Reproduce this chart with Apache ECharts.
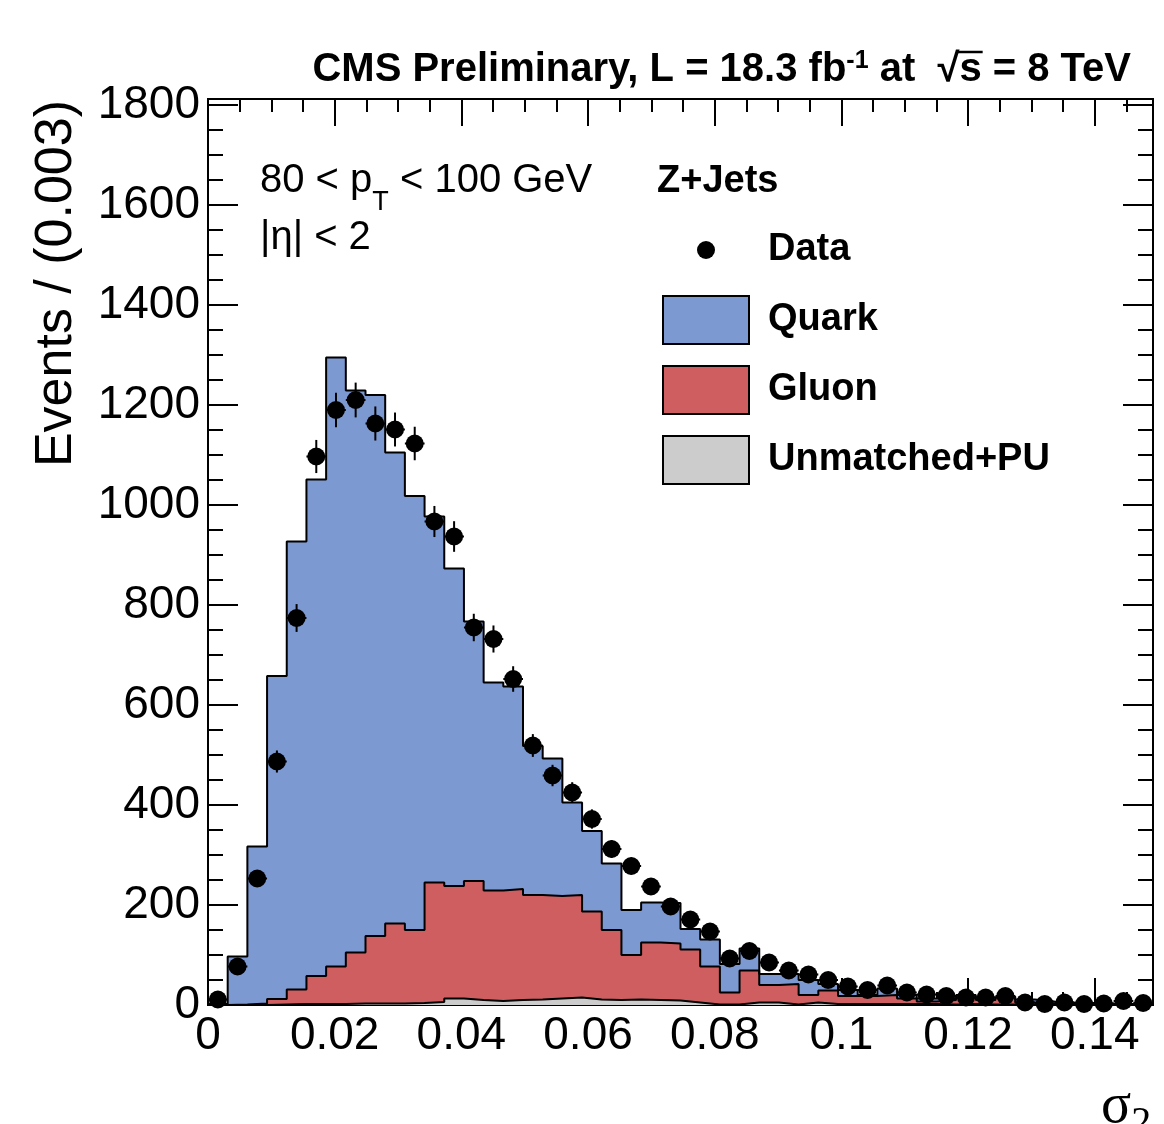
<!DOCTYPE html>
<html>
<head>
<meta charset="utf-8">
<script src="https://cdn.jsdelivr.net/npm/echarts@6/dist/echarts.min.js"></script>
<style>
  html, body { margin: 0; padding: 0; background: #ffffff; }
  #chart { width: 1164px; height: 1124px; }
</style>
</head>
<body>
<div id="chart"></div>
<script>
// histogram binning (48 bins over the axis range)
const xMax = 0.1492;
const nBins = 48;
const binWidth = xMax / nBins;
const yMax = 1812;
const xTicks = [0, 0.02, 0.04, 0.06, 0.08, 0.1, 0.12, 0.14];
const yTicks = [0, 200, 400, 600, 800, 1000, 1200, 1400, 1600, 1800];

// observed events per bin
const dataCounts = [11, 77, 253, 487, 774, 1097, 1190, 1210, 1163, 1151,
  1123, 967, 937, 755, 732, 652, 519, 459, 425, 372,
  312, 278, 237, 197, 171, 147, 93, 108, 85, 69,
  61, 50, 37, 30, 39, 25, 21, 18, 15, 15,
  18, 5, 2, 5, 2, 3, 8, 4];

// simulated components (stacked: unmatched, gluon, quark)
const quark = [2, 96, 314, 646, 896, 993, 1218, 1124, 1082, 942,
  868, 732, 635, 519, 416, 405, 298, 275, 185, 161,
  133, 90, 80, 81, 41, 54, 57, 44, 22, 20,
  30, 13, 12, 2, 13, 7, 6, 2, 5, 5,
  2, 6, 4, 2, 2, 1, 1, 1];
const gluon = [0, 1, 3, 11, 29, 56, 75, 102, 135, 160,
  146, 239, 225, 238, 221, 222, 209, 205, 205, 176,
  140, 89, 115, 114, 106, 76, 24, 64, 35, 41,
  15, 27, 16, 16, 18, 11, 5, 9, 13, 9,
  14, 4, 2, 2, 1, 1, 1, 1];
const unmatched = [0, 0, 0, 1, 2, 2, 2, 3, 3, 3,
  4, 6, 13, 10, 8, 10, 11, 13, 15, 11,
  10, 11, 10, 9, 5, 1, 1, 5, 5, 1,
  5, 2, 2, 2, 2, 2, 2, 1, 2, 1,
  1, 1, 1, 1, 1, 1, 0, 0];

const FONT = '"Liberation Sans", Helvetica, Arial, sans-serif';

// cumulative tops of the stack, drawn back to front
const grayTop = unmatched.slice();
const redTop = gluon.map((v, i) => v + grayTop[i]);
const blueTop = quark.map((v, i) => v + redTop[i]);

const layers = [
  { name: 'Quark', values: blueTop, color: '#7d99d1' },
  { name: 'Gluon', values: redTop, color: '#cf5e61' },
  { name: 'Unmatched+PU', values: grayTop, color: '#cccccc' },
];

// points at the left edge of each bin, plus the closing right edge
function stepData(values) {
  const pts = values.map((v, i) => [i * binWidth, v]);
  pts.push([nBins * binWidth, values[values.length - 1]]);
  return pts;
}

const dataPoints = dataCounts.map((v, i) => [(i + 0.5) * binWidth, v]);

function isTick(v, ticks) {
  return ticks.some((t) => Math.abs(t - v) < 1e-9);
}

function xAxisCfg(position, interval, tickLen, showLabel) {
  return {
    type: 'value',
    position,
    min: 0,
    max: xMax,
    interval,
    axisLine: { show: true, onZero: false, lineStyle: { color: '#000', width: 2 } },
    axisTick: { show: true, inside: true, length: tickLen, lineStyle: { color: '#000', width: 2 } },
    axisLabel: {
      show: showLabel,
      color: '#000',
      fontFamily: FONT,
      fontSize: 46,
      margin: 8,
      formatter: (v) => (isTick(v, xTicks) ? String(+v.toFixed(2)) : ''),
    },
    splitLine: { show: false },
  };
}

function yAxisCfg(position, interval, tickLen, showLabel) {
  return {
    type: 'value',
    position,
    min: 0,
    max: yMax,
    interval,
    axisLine: { show: true, onZero: false, lineStyle: { color: '#000', width: 2 } },
    axisTick: { show: true, inside: true, length: tickLen, lineStyle: { color: '#000', width: 2 } },
    axisLabel: {
      show: showLabel,
      color: '#000',
      fontFamily: FONT,
      fontSize: 46,
      margin: 8,
      formatter: (v) => (isTick(v, yTicks) ? String(v) : ''),
    },
    splitLine: { show: false },
  };
}

function renderErrorBar(params, api) {
  const x = api.value(0);
  const y = api.value(1);
  const err = Math.sqrt(y);
  const top = api.coord([x, y + err]);
  const bot = api.coord([x, Math.max(y - err, 0)]);
  const left = api.coord([x - binWidth / 2, y]);
  const right = api.coord([x + binWidth / 2, y]);
  const style = { stroke: '#000', lineWidth: 2 };
  return {
    type: 'group',
    children: [
      { type: 'line', shape: { x1: top[0], y1: top[1], x2: bot[0], y2: bot[1] }, style },
      { type: 'line', shape: { x1: left[0], y1: left[1], x2: right[0], y2: right[1] }, style },
    ],
  };
}

const series = [];
layers.forEach((l, k) => {
  series.push({
    type: 'line',
    name: l.name,
    step: 'end',
    data: stepData(l.values),
    symbol: 'none',
    lineStyle: { opacity: 0 },
    areaStyle: { color: l.color, opacity: 1, origin: 'start' },
    z: 2 + k * 0.1,
    silent: true,
  });
});
layers.forEach((l) => {
  series.push({
    type: 'line',
    step: 'end',
    data: stepData(l.values),
    symbol: 'none',
    lineStyle: { color: '#000', width: 2 },
    z: 3,
    silent: true,
  });
});
series.push({
  type: 'custom',
  name: 'Data',
  renderItem: renderErrorBar,
  data: dataPoints,
  clip: true,
  z: 4,
});
series.push({
  type: 'scatter',
  name: 'Data',
  data: dataPoints,
  symbol: 'circle',
  symbolSize: 18,
  itemStyle: { color: '#000', opacity: 1 },
  z: 5,
});

const legendRows = [
  { label: 'Quark', color: '#7d99d1', top: 296 },
  { label: 'Gluon', color: '#cf5e61', top: 366 },
  { label: 'Unmatched+PU', color: '#cccccc', top: 436 },
];

// place the bar of the square root over the "s" of the title
const titleRight = 1131;
const titleFont = 'bold 40px "Liberation Sans"';
const measureCtx = document.createElement('canvas').getContext('2d');
measureCtx.font = titleFont;
const sRight = titleRight - measureCtx.measureText(' = 8 TeV').width;
const sLeft = sRight - measureCtx.measureText('s').width;

const graphics = [
  {
    type: 'text', x: titleRight, y: 70,
    style: {
      text: '{a|CMS Preliminary, L = 18.3 fb}{s|-1}{a| at  √s = 8 TeV}',
      align: 'right', verticalAlign: 'middle',
      rich: {
        a: { fontFamily: FONT, fontWeight: 'bold', fontSize: 40, lineHeight: 42, fill: '#000' },
        s: { fontFamily: FONT, fontWeight: 'bold', fontSize: 25, lineHeight: 20, verticalAlign: 'top', fill: '#000' },
      },
    },
  },
  {
    type: 'line', shape: { x1: sLeft - 3, y1: 52, x2: sRight + 1, y2: 52 },
    style: { stroke: '#000', lineWidth: 2.5 },
  },
  {
    type: 'text', x: 57, y: 100, rotation: Math.PI / 2,
    style: { text: 'Events / (0.003)', font: '52px ' + FONT, fill: '#000', align: 'right', verticalAlign: 'middle' },
  },
  {
    type: 'text', x: 260, y: 161,
    style: {
      text: '{a|80 < p}{t|T}{a| < 100 GeV}',
      align: 'left', verticalAlign: 'top',
      rich: {
        a: { fontFamily: FONT, fontSize: 40, lineHeight: 36, verticalAlign: 'top', fill: '#000' },
        t: { fontFamily: FONT, fontSize: 27, lineHeight: 26, verticalAlign: 'top', padding: [28, 0, 0, 0], fill: '#000' },
      },
    },
  },
  {
    type: 'text', x: 260, y: 238,
    style: { text: '|η| < 2', font: '40px ' + FONT, fill: '#000', align: 'left', verticalAlign: 'middle' },
  },
  {
    type: 'text', x: 657, y: 182,
    style: { text: 'Z+Jets', font: 'bold 38px ' + FONT, fill: '#000', align: 'left', verticalAlign: 'middle' },
  },
  { type: 'circle', shape: { cx: 706, cy: 250, r: 9 }, style: { fill: '#000' } },
  {
    type: 'text', x: 768, y: 250,
    style: { text: 'Data', font: 'bold 38px ' + FONT, fill: '#000', align: 'left', verticalAlign: 'middle' },
  },
  {
    type: 'text', x: 1101, y: 1104,
    style: {
      text: '{a|σ}{b|2}',
      align: 'left', verticalAlign: 'middle',
      rich: {
        a: { fontFamily: '"Liberation Serif", "Times New Roman", serif', fontSize: 56, lineHeight: 50, verticalAlign: 'top', fill: '#000' },
        b: { fontFamily: '"Liberation Serif", "Times New Roman", serif', fontSize: 40, lineHeight: 40, verticalAlign: 'top', padding: [24, 0, 0, 0], fill: '#000' },
      },
    },
  },
];
legendRows.forEach((r) => {
  graphics.push({
    type: 'rect', shape: { x: 663, y: r.top, width: 86, height: 48 },
    style: { fill: r.color, stroke: '#000', lineWidth: 2 },
  });
  graphics.push({
    type: 'text', x: 768, y: r.top + 24,
    style: { text: r.label, font: 'bold 38px ' + FONT, fill: '#000', align: 'left', verticalAlign: 'middle' },
  });
});

const chart = echarts.init(document.getElementById('chart'));
chart.setOption({
  animation: false,
  backgroundColor: '#ffffff',
  grid: {
    left: 208, top: 99, width: 945, height: 906,
    show: true, borderColor: '#000', borderWidth: 2,
    containLabel: false, outerBoundsMode: 'none',
  },
  xAxis: [
    xAxisCfg('bottom', 0.02, 27, true),
    xAxisCfg('bottom', 0.005, 13, false),
    xAxisCfg('top', 0.02, 27, false),
    xAxisCfg('top', 0.005, 13, false),
  ],
  yAxis: [
    yAxisCfg('left', 200, 30, true),
    yAxisCfg('left', 50, 15, false),
    yAxisCfg('right', 200, 30, false),
    yAxisCfg('right', 50, 15, false),
  ],
  series,
  graphic: { elements: graphics },
});
</script>
</body>
</html>
